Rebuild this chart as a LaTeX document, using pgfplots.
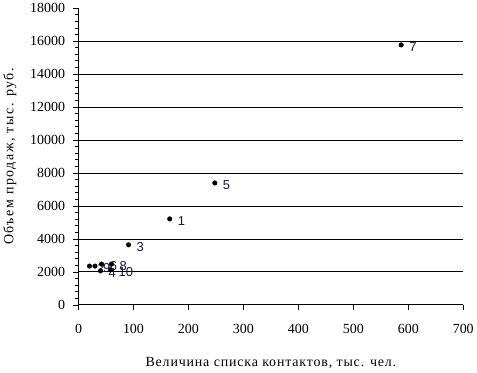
\documentclass[border=0pt]{standalone}
\usepackage{pgfplots}
\pgfplotsset{compat=1.18}
\usepackage{fontspec}
\setmainfont{Liberation Serif}
\newfontfamily\lsans{Liberation Sans}
\newfontfamily\xlabfont[LetterSpace=6]{Liberation Serif}
\newfontfamily\ylabfont[LetterSpace=11]{Liberation Serif}
\definecolor{lblcol}{RGB}{20,20,70}
\begin{document}
\begin{tikzpicture}
\begin{axis}[
  scale only axis, width=385bp, height=297bp,
  xmin=0, xmax=700, ymin=0, ymax=18000,
  xtick={0,100,...,700},
  ytick={0,2000,...,16000},
  extra y ticks={18000},
  extra y tick style={grid=none},
  minor ytick={0,400,...,18000},
  scaled ticks=false,
  axis x line*=bottom, axis y line*=left,
  tick align=outside,
  major tick length=5bp, minor tick length=3bp,
  every tick/.style={black, line width=0.6pt},
  ymajorgrids,
  major grid style={black, line width=0.7pt},
  axis line style={black, line width=0.7pt},
  /pgf/number format/assume math mode=true,
  /pgf/number format/1000 sep={},
  tick label style={font=\fontsize{14}{16}\selectfont},
  xticklabel style={yshift=-11bp},
  yticklabel style={xshift=-5bp},
  xlabel={\xlabfont Величина списка контактов, тыс. чел.},
  ylabel={\ylabfont Объем продаж, тыс. руб.},
  label style={font=\fontsize{14}{16}\selectfont},
  xlabel style={yshift=-17bp},
  ylabel style={yshift=-3bp},
  clip=false,
  nodes near coords={\pgfplotspointmeta},
  every node near coord/.append style={anchor=west, xshift=8bp, yshift=-2bp, font=\lsans\fontsize{13}{15}\selectfont, text=lblcol, inner sep=0pt},
]
\addplot[only marks, mark=*, mark size=2.3bp, black, point meta=explicit symbolic]
  table[meta=label] {
x y label
166 5210 1
20 2350 2
91 3640 3
40 2060 4
248 7390 5
42 2470 6
587 15760 7
60 2470 8
30 2350 9
58 2120 10
};
\end{axis}
\end{tikzpicture}
\end{document}
